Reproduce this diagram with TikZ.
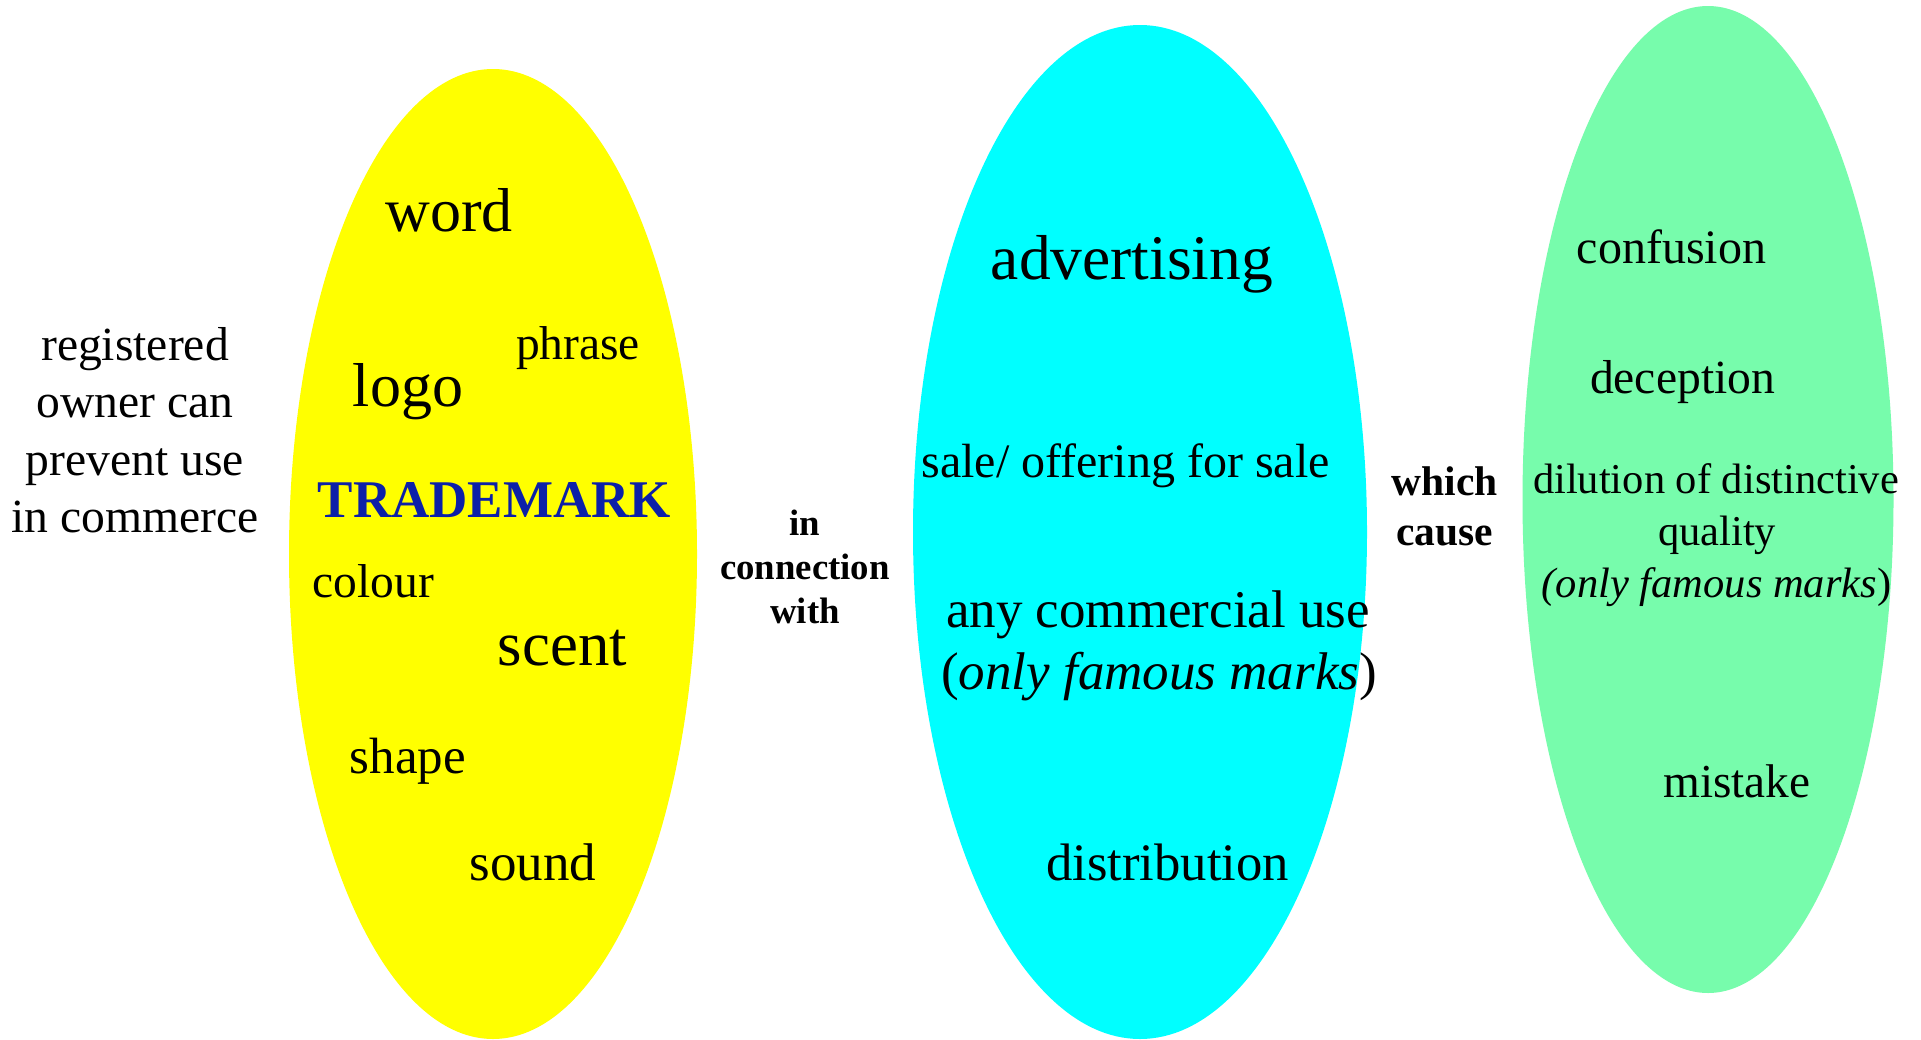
\documentclass[tikz,border=0pt]{standalone}
\usepackage{fontspec}
\setmainfont{Liberation Serif}
\usetikzlibrary{shapes.geometric}
\definecolor{yel}{RGB}{255,255,0}
\definecolor{cya}{RGB}{0,255,255}
\definecolor{grn}{RGB}{119,252,172}
\definecolor{tmblue}{RGB}{12,32,168}
\newcommand{\fsz}[1]{\fontsize{#1}{#1}\selectfont}
\tikzset{
  blob/.style={ellipse, draw=none, inner sep=0pt},
  lbl/.style={anchor=base, inner sep=0pt, text=black},
}
\begin{document}
\begin{tikzpicture}[x=1pt,y=-1pt]
\fill[white] (0,0) rectangle (1921,1039);
\useasboundingbox (0,0) rectangle (1921,1039);
% ellipses
\node[blob, fill=yel, minimum width=408pt, minimum height=970pt] (yellow) at (493,554) {};
\node[blob, fill=cya, minimum width=454pt, minimum height=1014pt] (cyan) at (1140,532) {};
\node[blob, fill=grn, minimum width=371pt, minimum height=987pt] (green) at (1708,499.5) {};
% left text
\node[lbl, font=\fsz{47.6}] (reg1) at (135,360) {registered};
\node[lbl, font=\fsz{47.6}] (reg2) at (135,417) {owner can};
\node[lbl, font=\fsz{47.6}] (reg3) at (135,475) {prevent use};
\node[lbl, font=\fsz{47.6}] (reg4) at (135,532) {in commerce};
% yellow
\node[lbl, font=\fsz{62}] (word) at (449,231) {word};
\node[lbl, font=\fsz{47.5}] (phrase) at (578,359) {phrase};
\node[lbl, font=\fsz{62}] (logo) at (408,406) {logo};
\node[lbl, font=\bfseries\fsz{53}, text=tmblue] (tm) at (494.5,517) {TRADEMARK};
\node[lbl, font=\fsz{47.5}] (colour) at (373.5,597) {colour};
\node[lbl, font=\fsz{62.8}] (scent) at (562.5,665) {scent};
\node[lbl, font=\fsz{51}] (shape) at (408,773) {shape};
\node[lbl, font=\fsz{53}] (sound) at (533,880) {sound};
% in connection with
\node[lbl, font=\bfseries\fsz{36.8}] (icw1) at (805,535) {in};
\node[lbl, font=\bfseries\fsz{36.8}] (icw2) at (805,579) {connection};
\node[lbl, font=\bfseries\fsz{36.8}] (icw3) at (805,623) {with};
% cyan
\node[lbl, font=\fsz{63.5}] (adv) at (1132,279) {advertising};
\node[lbl, font=\fsz{48}] (sale) at (1125.5,477) {sale/ offering for sale};
\node[lbl, font=\fsz{53}] (acu) at (1158,627) {any commercial use};
\node[lbl, font=\fsz{53}] (acuf) at (1159,689) {(\textit{only famous marks})};
\node[lbl, font=\fsz{52.7}] (dist) at (1167.5,880) {distribution};
% which cause
\node[lbl, font=\bfseries\fsz{41.5}] (wc1) at (1444.5,495) {which};
\node[lbl, font=\bfseries\fsz{41.5}] (wc2) at (1444.5,545) {cause};
% green
\node[lbl, font=\fsz{48}] (conf) at (1671.5,263) {confusion};
\node[lbl, font=\fsz{47.6}] (dec) at (1682.5,393) {deception};
\node[lbl, font=\fsz{42.5}] (dil1) at (1716,493) {dilution of distinctive};
\node[lbl, font=\fsz{42.5}] (dil2) at (1717,545) {quality};
\node[lbl, font=\fsz{42.5}] (dil3) at (1716.5,597) {\textit{(only famous marks})};
\node[lbl, font=\fsz{47.3}] (mist) at (1737,797) {mistake};
\end{tikzpicture}
\end{document}
